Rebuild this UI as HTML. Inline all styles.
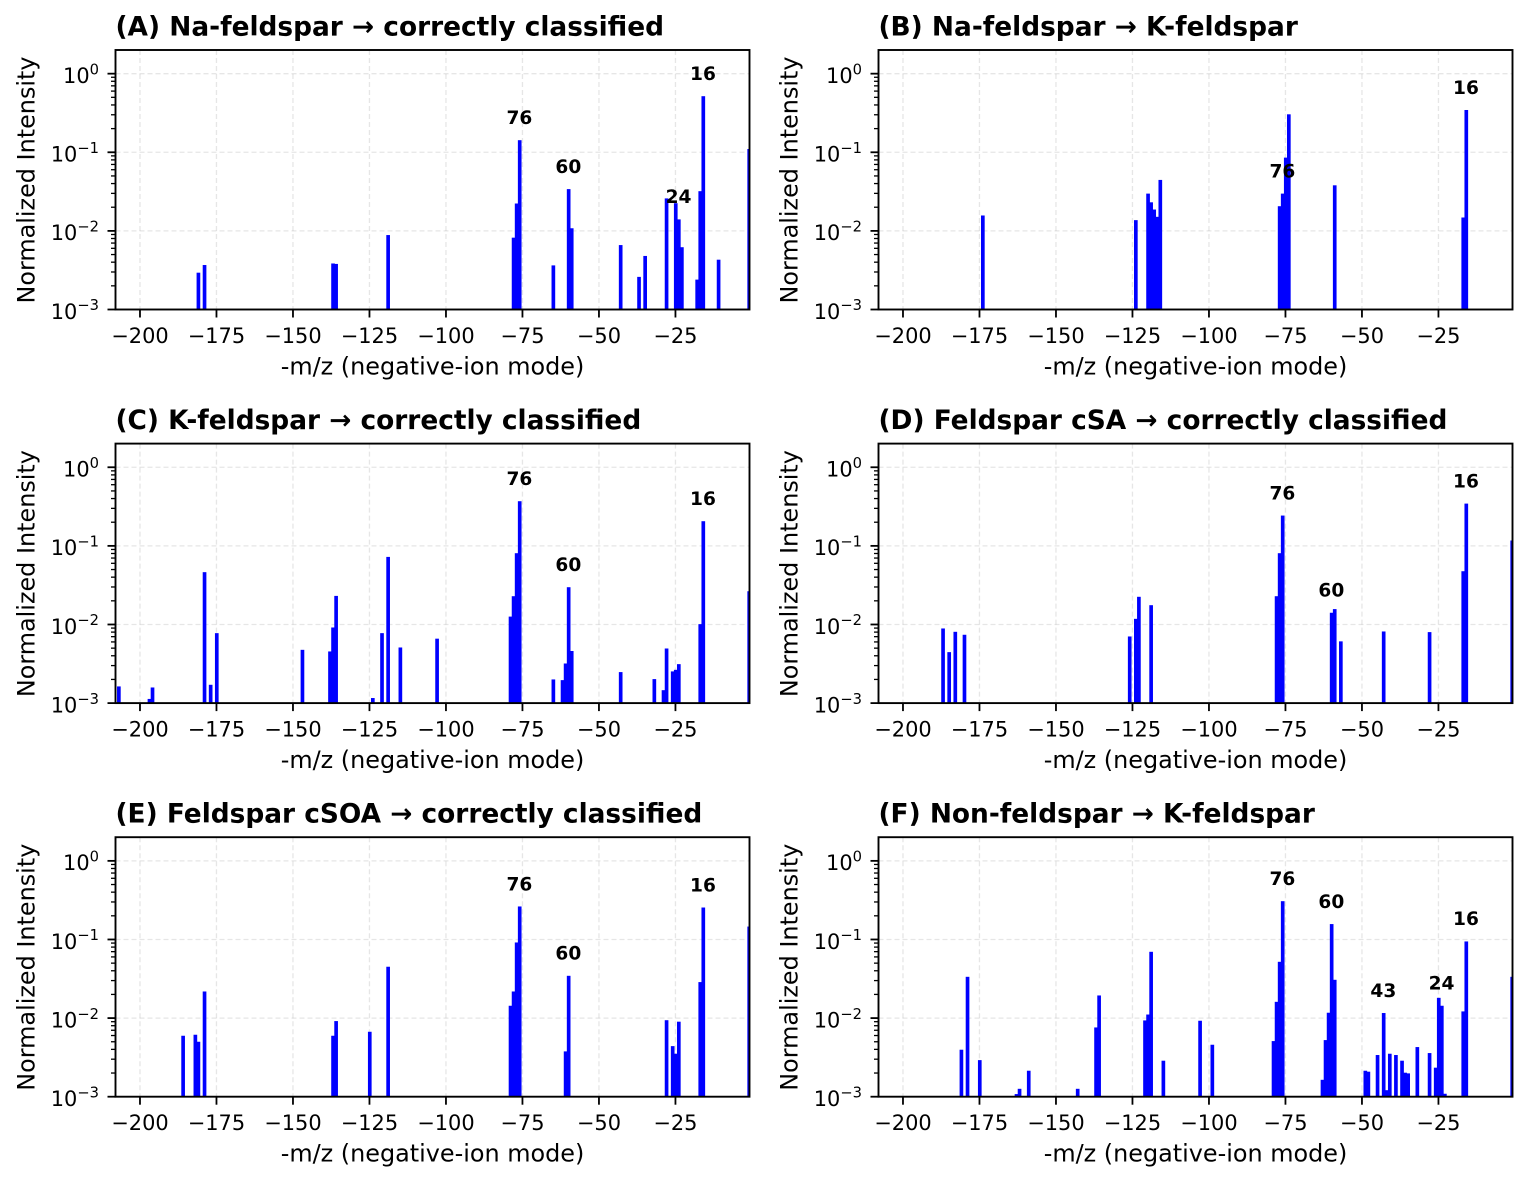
<!DOCTYPE html>
<html lang="en">
<head>
<meta charset="utf-8">
<title>Negative-ion mass spectra of feldspar classes</title>
<style>
html,body{margin:0;padding:0;background:#fff;}
svg{display:block;}
text{font-family:"DejaVu Sans","Liberation Sans",sans-serif;fill:#000;}
.title{font-size:26.4px;font-weight:bold;}
.axis-label{font-size:23.9px;}
.tick{font-size:20.9px;}
.peak{font-size:18.6px;font-weight:bold;text-anchor:middle;}
</style>
</head>
<body>
<svg id="figure" xmlns="http://www.w3.org/2000/svg" width="1529" height="1182" viewBox="0 0 1529 1182">
  <rect width="1529" height="1182" fill="#ffffff"/>

  <g id="panel-a" transform="translate(115.5,50)">
    <text class="title" x="0" y="-14.5">(A) Na-feldspar → correctly classified</text>
    <text class="axis-label" x="317" y="324.4" text-anchor="middle">-m/z (negative-ion mode)</text>
    <text class="axis-label" x="-81" y="130" text-anchor="middle" transform="rotate(-90 -81 130)">Normalized Intensity</text>
  </g>
  <g id="panel-b" transform="translate(878.5,50)">
    <text class="title" x="0" y="-14.5">(B) Na-feldspar → K-feldspar</text>
    <text class="axis-label" x="317" y="324.4" text-anchor="middle">-m/z (negative-ion mode)</text>
    <text class="axis-label" x="-81" y="130" text-anchor="middle" transform="rotate(-90 -81 130)">Normalized Intensity</text>
  </g>
  <g id="panel-c" transform="translate(115.5,443.6)">
    <text class="title" x="0" y="-14.5">(C) K-feldspar → correctly classified</text>
    <text class="axis-label" x="317" y="324.4" text-anchor="middle">-m/z (negative-ion mode)</text>
    <text class="axis-label" x="-81" y="130" text-anchor="middle" transform="rotate(-90 -81 130)">Normalized Intensity</text>
  </g>
  <g id="panel-d" transform="translate(878.5,443.6)">
    <text class="title" x="0" y="-14.5">(D) Feldspar cSA → correctly classified</text>
    <text class="axis-label" x="317" y="324.4" text-anchor="middle">-m/z (negative-ion mode)</text>
    <text class="axis-label" x="-81" y="130" text-anchor="middle" transform="rotate(-90 -81 130)">Normalized Intensity</text>
  </g>
  <g id="panel-e" transform="translate(115.5,837.2)">
    <text class="title" x="0" y="-14.5">(E) Feldspar cSOA → correctly classified</text>
    <text class="axis-label" x="317" y="324.4" text-anchor="middle">-m/z (negative-ion mode)</text>
    <text class="axis-label" x="-81" y="130" text-anchor="middle" transform="rotate(-90 -81 130)">Normalized Intensity</text>
  </g>
  <g id="panel-f" transform="translate(878.5,837.2)">
    <text class="title" x="0" y="-14.5">(F) Non-feldspar → K-feldspar</text>
    <text class="axis-label" x="317" y="324.4" text-anchor="middle">-m/z (negative-ion mode)</text>
    <text class="axis-label" x="-81" y="130" text-anchor="middle" transform="rotate(-90 -81 130)">Normalized Intensity</text>
  </g>
</svg>

<script>
const xTickValues = [-200, -175, -150, -125, -100, -75, -50, -25];
const xTickLabels = ["\u2212200", "\u2212175", "\u2212150", "\u2212125", "\u2212100", "\u221275", "\u221250", "\u221225"];
const yTickExponents = [0, -1, -2, -3];
const yTickLabels = ["0", "\u22121", "\u22122", "\u22123"];
const yMinorFactors = [2, 3, 4, 5, 6, 7, 8, 9];

const mzA = [-181, -179, -137, -136, -119, -78, -77, -76, -65, -60, -59, -43, -37, -35, -28, -25, -24, -23, -18, -17, -16, -11, -1];
const intensityA = [0.00294, 0.00368, 0.00385, 0.0038, 0.00885, 0.0082, 0.0223, 0.1425, 0.00364, 0.034, 0.0108, 0.0066, 0.0026, 0.0048, 0.0259, 0.0225, 0.014, 0.0062, 0.0024, 0.032, 0.517, 0.0043, 0.11];
const peakLabelsA = [76, 60, 24, 16];

const mzB = [-174, -124, -120, -119, -118, -117, -116, -77, -76, -75, -74, -59, -17, -16];
const intensityB = [0.0157, 0.0137, 0.0298, 0.0231, 0.0187, 0.0151, 0.0445, 0.0206, 0.0298, 0.0855, 0.304, 0.038, 0.0148, 0.345];
const peakLabelsB = [76, 16];

const mzC = [-207, -197, -196, -179, -177, -175, -147, -138, -137, -136, -124, -121, -119, -115, -103, -79, -78, -77, -76, -65, -62, -61, -60, -59, -43, -32, -29, -28, -26, -25, -24, -17, -16, -1];
const intensityC = [0.00163, 0.00113, 0.00158, 0.0463, 0.00171, 0.00776, 0.00476, 0.00454, 0.00916, 0.0231, 0.00116, 0.00776, 0.0724, 0.0051, 0.0066, 0.0126, 0.0229, 0.0807, 0.37, 0.002, 0.00196, 0.00319, 0.0298, 0.0046, 0.00248, 0.00202, 0.00146, 0.00495, 0.00253, 0.00265, 0.00313, 0.0101, 0.206, 0.0265];
const peakLabelsC = [76, 60, 16];

const mzD = [-187, -185, -183, -180, -126, -124, -123, -119, -78, -77, -76, -60, -59, -57, -43, -28, -17, -16, -1];
const intensityD = [0.0089, 0.00445, 0.00807, 0.0074, 0.00704, 0.0118, 0.0225, 0.0176, 0.0229, 0.0807, 0.243, 0.0141, 0.0157, 0.0061, 0.00815, 0.008, 0.0476, 0.345, 0.117];
const peakLabelsD = [76, 60, 16];

const mzE = [-186, -182, -181, -179, -137, -136, -125, -119, -79, -78, -77, -76, -61, -60, -28, -26, -25, -24, -17, -16, -1];
const intensityE = [0.00596, 0.00614, 0.005, 0.0218, 0.00596, 0.00916, 0.0067, 0.045, 0.01435, 0.0218, 0.0916, 0.263, 0.00377, 0.0345, 0.0094, 0.0044, 0.00352, 0.009, 0.0287, 0.255, 0.146];
const peakLabelsE = [76, 60, 16];

const mzF = [-181, -179, -175, -163, -162, -159, -143, -137, -136, -121, -120, -119, -115, -103, -99, -79, -78, -77, -76, -63, -62, -61, -60, -59, -49, -48, -45, -43, -42, -41, -39, -37, -36, -35, -32, -28, -26, -25, -24, -23, -17, -16, -1];
const intensityF = [0.00396, 0.0335, 0.00292, 0.00108, 0.00126, 0.00214, 0.00126, 0.0076, 0.0194, 0.00934, 0.0111, 0.0697, 0.00287, 0.00925, 0.00458, 0.0051, 0.0161, 0.052, 0.307, 0.00164, 0.00525, 0.0117, 0.157, 0.0307, 0.00214, 0.00208, 0.00339, 0.0116, 0.00121, 0.00352, 0.00339, 0.00287, 0.00202, 0.00198, 0.00428, 0.00359, 0.00234, 0.0181, 0.01435, 0.00109, 0.01216, 0.0944, 0.0335];
const peakLabelsF = [76, 60, 43, 24, 16];

const SVG_NS = "http://www.w3.org/2000/svg";
const plotWidth = 634;
const plotHeight = 259.5;
const xDomainMin = -208;
const xDomainMax = -0.8;
const yDomainMaxLog = Math.log10(2);
const yDomainMinLog = -3;

function xScale(m) {
  return (m - xDomainMin) / (xDomainMax - xDomainMin) * plotWidth;
}
function yScale(v) {
  return plotHeight - (Math.log10(v) - yDomainMinLog) / (yDomainMaxLog - yDomainMinLog) * plotHeight;
}
function make(tag, parent) {
  const el = document.createElementNS(SVG_NS, tag);
  parent.appendChild(el);
  return el;
}
function setAll(el, attrs) {
  Object.keys(attrs).forEach(function (k) { el.setAttribute(k, attrs[k]); });
}

function drawPanel(panelId, mzValues, intensities, peakLabels) {
  const panel = document.getElementById(panelId);
  const first = panel.firstChild;
  const layer = document.createElementNS(SVG_NS, "g");
  
  
  panel.insertBefore(layer, first);

  const clip = make("clipPath", layer);
  clip.setAttribute("id", panelId + "-clip");
  const clipRect = make("rect", clip);
  setAll(clipRect, { x: 0, y: 0, width: plotWidth, height: plotHeight });

  xTickValues.forEach(function (t) {
    const line = make("line", layer);
    setAll(line, { x1: xScale(t), x2: xScale(t), y1: 0, y2: plotHeight, stroke: "#b0b0b0", "stroke-opacity": 0.32, "stroke-width": 1.3, "stroke-dasharray": "5 3" });
    
    
  });
  yTickExponents.forEach(function (e) {
    const y = yScale(Math.pow(10, e));
    const line = make("line", layer);
    setAll(line, { x1: 0, x2: plotWidth, y1: y, y2: y, stroke: "#b0b0b0", "stroke-opacity": 0.32, "stroke-width": 1.3, "stroke-dasharray": "5 3" });
    
    
  });

  const bars = make("g", layer);
  bars.setAttribute("clip-path", "url(#" + panelId + "-clip)");
  
  
  mzValues.forEach(function (m, i) {
    const rect = make("rect", bars);
    const left = xScale(m - 0.5);
    const top = yScale(intensities[i]);
    setAll(rect, { x: left, y: top, width: xScale(m + 0.7) - left, height: plotHeight - top, fill: "#0000ff" });
    
    
  });

  const frame = make("rect", layer);
  setAll(frame, { x: 0, y: 0, width: plotWidth, height: plotHeight, fill: "none", stroke: "#000", "stroke-width": 1.9 });
  
  

  xTickValues.forEach(function (t, i) {
    const tick = make("line", layer);
    setAll(tick, { x1: xScale(t), x2: xScale(t), y1: plotHeight, y2: plotHeight + 8, stroke: "#000", "stroke-width": 1.8 });
    
    
    const label = make("text", layer);
    setAll(label, { x: xScale(t), y: plotHeight + 33.3, "text-anchor": "middle", class: "tick" });
    label.textContent = xTickLabels[i];
    
    
  });

  yTickExponents.forEach(function (e, i) {
    const y = yScale(Math.pow(10, e));
    const tick = make("line", layer);
    setAll(tick, { x1: -8, x2: 0, y1: y, y2: y, stroke: "#000", "stroke-width": 1.8 });
    
    
    const label = make("text", layer);
    setAll(label, { x: -16.5, y: y + 9.3, "text-anchor": "end", class: "tick" });
    label.textContent = "10";
    const sup = make("tspan", label);
    setAll(sup, { dy: -8.6, "font-size": 14.7 });
    sup.textContent = yTickLabels[i];
    
    
    if (e > yDomainMinLog) {
      yMinorFactors.forEach(function (f) {
        const my = yScale(f * Math.pow(10, e - 1));
        const minor = make("line", layer);
        setAll(minor, { x1: -4.5, x2: 0, y1: my, y2: my, stroke: "#000", "stroke-width": 1.3 });
        
        
      });
    }
  });

  peakLabels.forEach(function (p) {
    const index = mzValues.indexOf(-p);
    const label = make("text", layer);
    setAll(label, { x: xScale(-p), y: yScale(intensities[index]) - 16.2, class: "peak" });
    label.textContent = String(p);
    
    
  });
}

drawPanel("panel-a", mzA, intensityA, peakLabelsA);
drawPanel("panel-b", mzB, intensityB, peakLabelsB);
drawPanel("panel-c", mzC, intensityC, peakLabelsC);
drawPanel("panel-d", mzD, intensityD, peakLabelsD);
drawPanel("panel-e", mzE, intensityE, peakLabelsE);
drawPanel("panel-f", mzF, intensityF, peakLabelsF);
</script>
</body>
</html>
